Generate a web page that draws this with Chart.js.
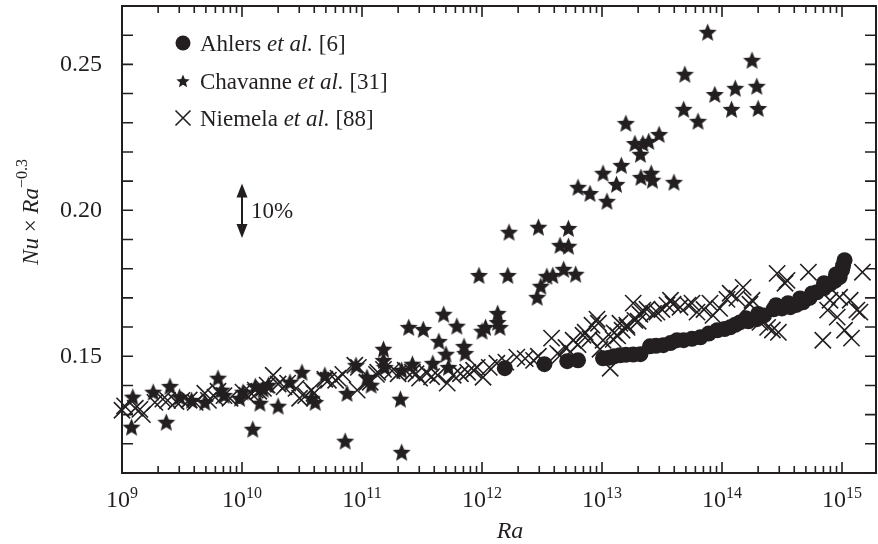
<!DOCTYPE html>
<html><head><meta charset="utf-8">
<script src="https://cdn.jsdelivr.net/npm/chart.js@4/dist/chart.umd.min.js"></script>
<style>html,body{margin:0;padding:0;background:#fff;}#wrap{width:878px;height:544px;}</style>
</head><body><div id="wrap"><canvas id="c" width="878" height="544"></canvas></div>
<script>
// ---- data ----
const ahlersRa = [1.55e12,3.31e12,5.13e12,6.31e12,1.02e13,1.15e13,1.26e13,1.41e13,1.58e13,1.82e13,2.09e13,2.51e13,2.82e13,3.24e13,3.72e13,4.22e13,4.79e13,5.62e13,6.61e13,7.76e13,9.12e13,1.05e14,1.17e14,1.29e14,1.41e14,1.66e14,1.95e14,2.24e14,2.69e14,3.16e14,3.72e14,4.17e14,4.73e14,5.37e14,6.17e14,7.08e14,7.94e14,8.71e14,9.55e14,1.00e15,1.02e15,1.05e15,
  1.58e14,2.00e14,2.82e14,3.55e14,4.47e14,5.62e14,7.08e14,8.91e14];
const ahlersNu = [0.1459,0.1473,0.1483,0.1486,0.1493,0.1495,0.1500,0.1503,0.1505,0.1506,0.1507,0.1534,0.1536,0.1538,0.1545,0.1555,0.1555,0.1560,0.1565,0.1578,0.1589,0.1593,0.1599,0.1608,0.1616,0.1620,0.1627,0.1640,0.1661,0.1664,0.1668,0.1676,0.1685,0.1700,0.1719,0.1733,0.1747,0.1758,0.1771,0.1795,0.1810,0.1829,
  0.1630,0.1645,0.1675,0.1682,0.1698,0.1715,0.1750,0.1780];

const chavRa = [1.23e9,1.20e9,1.82e9,2.51e9,2.34e9,3.02e9,3.80e9,4.90e9,6.31e9,6.76e9,7.08e9,9.55e9,1.02e10,1.23e10,1.29e10,1.41e10,1.50e10,1.66e10,2.00e10,2.51e10,3.16e10,3.80e10,4.07e10,4.90e10,7.50e10,7.24e10,8.91e10,1.10e11,1.19e11,1.51e11,1.51e11,1.55e11,2.14e11,2.09e11,2.14e11,2.45e11,2.63e11,3.24e11,3.89e11,4.37e11,4.79e11,5.01e11,5.25e11,6.17e11,7.08e11,7.24e11,1.00e12,9.44e11,1.07e12,1.35e12,1.35e12,1.41e12,1.64e12,1.68e12,2.88e12,2.95e12,3.09e12,3.47e12,3.89e12,4.47e12,4.79e12,5.25e12,5.25e12,6.03e12,6.31e12,7.94e12,1.02e13,1.10e13,1.32e13,1.45e13,1.58e13,1.88e13,2.09e13,2.11e13,2.19e13,2.45e13,2.57e13,2.63e13,2.99e13,3.98e13,4.79e13,4.90e13,6.31e13,7.59e13,8.71e13,1.20e14,1.29e14,1.78e14,1.95e14,2.00e14];
const chavNu = [0.1360,0.1257,0.1377,0.1397,0.1274,0.1360,0.1349,0.1342,0.1425,0.1384,0.1366,0.1356,0.1377,0.1250,0.1397,0.1339,0.1387,0.1401,0.1329,0.1411,0.1445,0.1356,0.1342,0.1435,0.1373,0.1209,0.1469,0.1428,0.1401,0.1524,0.1486,0.1462,0.1452,0.1353,0.1171,0.1599,0.1473,0.1592,0.1476,0.1551,0.1644,0.1507,0.1462,0.1603,0.1534,0.1510,0.1586,0.1777,0.1599,0.1647,0.1616,0.1599,0.1777,0.1925,0.1702,0.1942,0.1740,0.1774,0.1777,0.1880,0.1798,0.1938,0.1877,0.1781,0.2079,0.2058,0.2127,0.2031,0.2089,0.2154,0.2298,0.2229,0.2192,0.2113,0.2229,0.2236,0.2127,0.2103,0.2260,0.2096,0.2346,0.2466,0.2305,0.2610,0.2397,0.2346,0.2418,0.2514,0.2425,0.2349];

const niemRa = [1.00e9,1.05e9,1.29e9,1.41e9,1.48e9,1.88e9,2.19e9,2.40e9,3.16e9,4.07e9,4.90e9,5.25e9,5.96e9,6.31e9,7.94e9,1.02e10,1.10e10,1.29e10,1.51e10,1.62e10,1.82e10,2.00e10,2.40e10,3.02e10,3.80e10,3.98e10,4.90e10,5.25e10,6.03e10,6.31e10,6.92e10,8.71e10,9.12e10,9.33e10,1.10e11,1.17e11,1.32e11,1.35e11,1.51e11,2.63e11,2.82e11,3.02e11,3.47e11,4.27e11,5.13e11,5.75e11,7.59e11,8.51e11,9.12e11,1.02e12,1.33e12,1.95e12,2.69e12,3.80e12,4.27e12,5.01e12,5.75e12,6.31e12,7.24e12,7.94e12,9.33e12,1.02e13,1.17e13,1.26e13,1.35e13,1.41e13,1.62e13,1.82e13,2.00e13,2.19e13,2.69e13,3.16e13,3.72e13,4.47e13,5.62e13,7.08e13,7.94e13,9.55e13,1.17e14,1.33e14,1.50e14,1.78e14,2.40e14,2.63e14,2.88e14,2.95e14,3.35e14,5.25e14,6.92e14,7.59e14,7.94e14,9.12e14,9.55e14,1.05e15,1.17e15,1.20e15,1.41e15,1.48e15,
  4.47e12,5.41e12,6.95e12,8.26e12,9.08e12,9.62e12,1.24e13,1.47e13,1.61e13,1.88e13,2.07e13,2.37e13,2.87e13,3.48e13,3.91e13,5.21e13,6.19e13,8.41e13,1.10e14,1.71e14,2.07e14,3.48e14,1.33e15,
  2.24e10,2.82e10,3.39e10,1.78e11,2.00e11,2.29e11,2.82e9,3.63e9,7.08e9,1.20e10,1.38e10,3.80e11,6.61e11,1.15e12,1.58e12,2.29e12,2.95e12];
const niemNu = [0.1315,0.1330,0.1322,0.1318,0.1300,0.1342,0.1353,0.1349,0.1349,0.1342,0.1373,0.1349,0.1360,0.1380,0.1356,0.1377,0.1366,0.1384,0.1390,0.1401,0.1435,0.1405,0.1408,0.1356,0.1384,0.1373,0.1421,0.1418,0.1418,0.1425,0.1438,0.1469,0.1384,0.1462,0.1411,0.1411,0.1438,0.1445,0.1455,0.1445,0.1440,0.1425,0.1442,0.1435,0.1408,0.1435,0.1445,0.1452,0.1462,0.1428,0.1476,0.1497,0.1486,0.1562,0.1510,0.1530,0.1555,0.1540,0.1582,0.1560,0.1613,0.1555,0.1459,0.1580,0.1570,0.1613,0.1599,0.1682,0.1620,0.1658,0.1647,0.1660,0.1692,0.1668,0.1682,0.1660,0.1682,0.1664,0.1716,0.1699,0.1736,0.1692,0.1599,0.1590,0.1784,0.1582,0.1750,0.1788,0.1555,0.1658,0.1692,0.1634,0.1702,0.1589,0.1692,0.1562,0.1651,0.1788,
  0.1503,0.1514,0.1572,0.1606,0.1627,0.1524,0.1558,0.1589,0.1606,0.1623,0.1644,0.1661,0.1651,0.1675,0.1678,0.1675,0.1651,0.1640,0.1695,0.1678,0.1616,0.1760,0.1658,
  0.1395,0.1390,0.1365,0.1450,0.1440,0.1452,0.1345,0.1350,0.1365,0.1372,0.1380,0.1430,0.1440,0.1462,0.1480,0.1492,0.1500];

const xMin = 1e9, xMax = 1.92e15;
const yMin = 0.11, yMax = 0.27;
const xDecades = [9,10,11,12,13,14,15];
const yTicks = [0.11,0.12,0.13,0.14,0.15,0.16,0.17,0.18,0.19,0.20,0.21,0.22,0.23,0.24,0.25,0.26,0.27];
const yLabels = [0.15,0.20,0.25];
const arrowRa = 1e10, arrowLo = 0.1905, arrowHi = 0.2092, arrowText = '10%';
const legendItems = [
  {pre:'Ahlers ', it:'et al.', post:' [6]', mark:'circle'},
  {pre:'Chavanne ', it:'et al.', post:' [31]', mark:'star'},
  {pre:'Niemela ', it:'et al.', post:' [88]', mark:'cross'}
];

const INK = '#231f20';
const FONT = '"Liberation Serif", "Times New Roman", serif';

function makeStar(R, ratio, color) {
  const s = Math.ceil(R * 2 + 2);
  const c = document.createElement('canvas'); c.width = s; c.height = s;
  const g = c.getContext('2d'); g.fillStyle = color; g.beginPath();
  for (let i = 0; i < 10; i++) {
    const a = -Math.PI / 2 + i * Math.PI / 5;
    const rr = (i % 2) ? R * ratio : R;
    g.lineTo(s / 2 + rr * Math.cos(a), s / 2 + rr * Math.sin(a) + R * 0.08);
  }
  g.closePath(); g.fill();
  return c;
}
const starImg = makeStar(9.5, 0.45, INK);
const starLegend = makeStar(7, 0.45, INK);

const zip = (xs, ys) => xs.map((v, i) => ({x: v, y: ys[i]}));

const decor = {
  id: 'decor',
  afterDraw(chart) {
    const {ctx, chartArea: a, scales: {x, y}} = chart;
    ctx.save();
    ctx.strokeStyle = INK; ctx.fillStyle = INK;
    ctx.lineWidth = 2;
    ctx.strokeRect(a.left, a.top, a.right - a.left, a.bottom - a.top);
    ctx.lineWidth = 1.6;
    ctx.beginPath();
    yTicks.forEach(v => {
      const py = y.getPixelForValue(v);
      ctx.moveTo(a.left, py); ctx.lineTo(a.left + 11, py);
      ctx.moveTo(a.right, py); ctx.lineTo(a.right - 11, py);
    });
    xDecades.forEach(d => {
      for (let m = 1; m <= 9; m++) {
        const v = m * Math.pow(10, d);
        if (v < xMin || v > xMax) continue;
        const px = x.getPixelForValue(v);
        const len = m === 1 ? 11 : 7;
        ctx.moveTo(px, a.bottom); ctx.lineTo(px, a.bottom - len);
        ctx.moveTo(px, a.top); ctx.lineTo(px, a.top + len);
      }
    });
    ctx.stroke();
    ctx.font = '24px ' + FONT;
    ctx.textAlign = 'right'; ctx.textBaseline = 'middle';
    yLabels.forEach(v => ctx.fillText(v.toFixed(2), a.left - 20, y.getPixelForValue(v)));
    ctx.textAlign = 'left'; ctx.textBaseline = 'alphabetic';
    xDecades.forEach(d => {
      const px = x.getPixelForValue(Math.pow(10, d));
      ctx.font = '24px ' + FONT;
      const wb = ctx.measureText('10').width;
      ctx.font = '16px ' + FONT;
      const we = ctx.measureText(String(d)).width;
      const x0 = px - (wb + we) / 2;
      ctx.font = '24px ' + FONT;
      ctx.fillText('10', x0, a.bottom + 34);
      ctx.font = '16px ' + FONT;
      ctx.fillText(String(d), x0 + wb, a.bottom + 25);
    });
    ctx.font = 'italic 24px ' + FONT;
    ctx.textAlign = 'center';
    ctx.fillText('Ra', 510, a.bottom + 65);
    ctx.save();
    ctx.translate(38, 212); ctx.rotate(-Math.PI / 2);
    const parts = [
      {t:'Nu', f:'italic 23px ', dy:0},
      {t:' × ', f:'23px ', dy:0},
      {t:'Ra', f:'italic 23px ', dy:0},
      {t:'−0.3', f:'16px ', dy:-11}
    ];
    let tw = 0;
    parts.forEach(p => { ctx.font = p.f + FONT; p.w = ctx.measureText(p.t).width; tw += p.w; });
    let cx = -tw / 2;
    ctx.textAlign = 'left';
    parts.forEach(p => { ctx.font = p.f + FONT; ctx.fillText(p.t, cx, p.dy); cx += p.w; });
    ctx.restore();
    const rows = [43, 81, 118];
    legendItems.forEach((it, i) => {
      const cy = rows[i], mx = 183;
      if (it.mark === 'circle') {
        ctx.beginPath(); ctx.arc(mx, cy, 7.5, 0, Math.PI * 2); ctx.fill();
      } else if (it.mark === 'star') {
        ctx.drawImage(starLegend, mx - starLegend.width / 2, cy - starLegend.height / 2);
      } else {
        ctx.lineWidth = 1.6; ctx.beginPath();
        ctx.moveTo(mx - 7.5, cy - 7.5); ctx.lineTo(mx + 7.5, cy + 7.5);
        ctx.moveTo(mx + 7.5, cy - 7.5); ctx.lineTo(mx - 7.5, cy + 7.5); ctx.stroke();
      }
      let tx = 200; const by = cy + 8;
      ctx.textAlign = 'left';
      ctx.font = '23px ' + FONT; ctx.fillText(it.pre, tx, by); tx += ctx.measureText(it.pre).width;
      ctx.font = 'italic 23px ' + FONT; ctx.fillText(it.it, tx, by); tx += ctx.measureText(it.it).width;
      ctx.font = '23px ' + FONT; ctx.fillText(it.post, tx, by);
    });
    const ax = x.getPixelForValue(arrowRa);
    const yt = y.getPixelForValue(arrowHi), yb = y.getPixelForValue(arrowLo);
    const hh = 14, hw = 5.5;
    ctx.lineWidth = 2;
    ctx.beginPath(); ctx.moveTo(ax, yt + hh - 2); ctx.lineTo(ax, yb - hh + 2); ctx.stroke();
    ctx.beginPath(); ctx.moveTo(ax, yt); ctx.lineTo(ax + hw, yt + hh); ctx.lineTo(ax - hw, yt + hh); ctx.closePath(); ctx.fill();
    ctx.beginPath(); ctx.moveTo(ax, yb); ctx.lineTo(ax + hw, yb - hh); ctx.lineTo(ax - hw, yb - hh); ctx.closePath(); ctx.fill();
    ctx.font = '23px ' + FONT; ctx.textAlign = 'left'; ctx.textBaseline = 'middle';
    ctx.fillText(arrowText, ax + 9, (yt + yb) / 2 + 1);
    ctx.restore();
  }
};

new Chart(document.getElementById('c'), {
  type: 'scatter',
  data: {
    datasets: [
      {label: 'Niemela et al. [88]', data: zip(niemRa, niemNu), pointStyle: 'crossRot', pointRadius: 11.5, borderColor: INK, borderWidth: 1.6, backgroundColor: INK, clip: false},
      {label: 'Chavanne et al. [31]', data: zip(chavRa, chavNu), pointStyle: starImg, pointRadius: 10, clip: false},
      {label: 'Ahlers et al. [6]', data: zip(ahlersRa, ahlersNu), pointStyle: 'circle', pointRadius: 8, backgroundColor: INK, borderColor: INK, borderWidth: 0, clip: false}
    ]
  },
  options: {
    responsive: false, animation: false, devicePixelRatio: 1,
    layout: {autoPadding: false, padding: {left: 122, top: 6, right: 2, bottom: 71}},
    plugins: {legend: {display: false}, tooltip: {enabled: false}},
    events: [],
    scales: {
      x: {type: 'logarithmic', min: xMin, max: xMax,
          ticks: {display: false}, grid: {display: false, drawTicks: false}, border: {display: false},
          afterFit: s => { s.height = 0; }},
      y: {type: 'linear', min: yMin, max: yMax,
          ticks: {display: false}, grid: {display: false, drawTicks: false}, border: {display: false},
          afterFit: s => { s.width = 0; }}
    }
  },
  plugins: [decor]
});
</script>
</body></html>
